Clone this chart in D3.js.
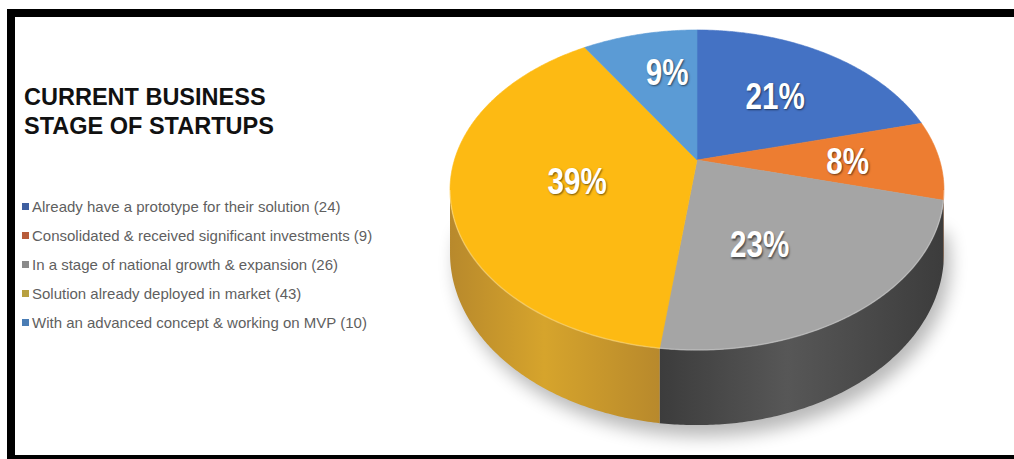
<!DOCTYPE html>
<meta charset="utf-8">
<script src="https://cdn.jsdelivr.net/npm/d3@7"></script>
<style type="text/css">
    body {
        margin: 0;
        background: #fff;
    }

    .title {
        font-family: "Liberation Sans", Arial, sans-serif;
        font-weight: bold;
        font-size: 23.5px;
        fill: #111;
    }

    .legend-label {
        font-family: "Liberation Sans", Arial, sans-serif;
        font-size: 15px;
        fill: #5f5f5f;
    }

    .pct {
        font-family: "Liberation Sans", Arial, sans-serif;
        font-weight: bold;
        font-size: 37px;
        fill: #fff;
        text-shadow: 1px 1px 2px rgba(0, 0, 0, 0.55);
    }
</style>

<body>
    <script type="text/javascript">
        var categories = [
            "Already have a prototype for their solution",
            "Consolidated & received significant investments",
            "In a stage of national growth & expansion",
            "Solution already deployed in market",
            "With an advanced concept & working on MVP"
        ];
        var counts = [24, 9, 26, 43, 10];
        var percents = [21, 8, 23, 39, 9];
        var titleLines = ["CURRENT BUSINESS", "STAGE OF STARTUPS"];

        var topColors = ["#4472C4", "#ED7D31", "#A5A5A5", "#FDBA13", "#5B9BD5"];
        var sideLight = ["#34599c", "#c0621f", "#575757", "#d6a42c", "#467cb0"];
        var sideDark = ["#2c4c86", "#a5521a", "#3c3c3c", "#b8892c", "#3a6a98"];
        var markColors = ["#3f5fa0", "#b85c3a", "#8a8a8a", "#b8a040", "#4a7db5"];
        // label placement tweaks: radius fraction and turn in degrees
        var labelK = [0.57, 0.62, 0.55, 0.5, 0.65];
        var labelTurn = [0, 1, 9, -3, 4];

        var width = 1014, height = 459;

        // pie geometry (perspective view of a flat disc)
        var cx = 697, cy = 160, SX = 242.6, SY = 154.4, p = 0.1875, depth = 61;

        var svg = d3.select("body").append("svg")
            .attr("width", width)
            .attr("height", height);

        var defs = svg.append("defs");
        defs.append("filter").attr("id", "blur")
            .attr("x", "-20%").attr("y", "-20%").attr("width", "140%").attr("height", "140%")
            .append("feGaussianBlur").attr("stdDeviation", 9);

        svg.append("rect")
            .attr("width", width)
            .attr("height", height)
            .attr("fill", "#fff");

        function proj(a, k, drop) {
            var c = Math.cos(a), s = Math.sin(a);
            var f = 1 / (1 + p * k * c);
            return [cx + SX * k * s * f, cy - SY * k * c * f + drop * f];
        }

        function rim(a0, a1, drop) {
            var n = Math.max(2, Math.ceil((a1 - a0) / 0.01));
            return d3.range(n + 1).map(function (i) {
                return proj(a0 + (a1 - a0) * i / n, 1, drop);
            });
        }

        var pie = d3.pie().sort(null).value(function (d) { return d; });
        var arcs = pie(percents);
        var line = d3.line();

        // shadow under the disc
        var shadowPts = rim(Math.PI * 0.5, Math.PI * 1.5, depth + 6);
        svg.append("path")
            .attr("d", line(shadowPts.concat([proj(Math.PI, 0.2, depth)])) + "Z")
            .attr("fill", "#000")
            .attr("opacity", 0.28)
            .attr("transform", "translate(6,4)")
            .attr("filter", "url(#blur)");

        // side walls
        var tR = Math.acos(-p), tL = 2 * Math.PI - Math.acos(-p);
        arcs.forEach(function (d, i) {
            var a0 = Math.max(d.startAngle, tR), a1 = Math.min(d.endAngle, tL);
            if (a0 >= a1) return;
            var top = rim(a0, a1, 0);
            var bottom = rim(a0, a1, depth).reverse();
            var xs = top.map(function (q) { return q[0]; });
            var gid = "side" + i;
            var g = defs.append("linearGradient").attr("id", gid)
                .attr("gradientUnits", "userSpaceOnUse")
                .attr("x1", d3.max(xs)).attr("x2", d3.min(xs))
                .attr("y1", 0).attr("y2", 0);
            g.append("stop").attr("offset", "0%").attr("stop-color", sideDark[i]);
            g.append("stop").attr("offset", "55%").attr("stop-color", sideLight[i]);
            g.append("stop").attr("offset", "100%").attr("stop-color", sideDark[i]);
            svg.append("path")
                .attr("d", line(top.concat(bottom)) + "Z")
                .attr("fill", "url(#" + gid + ")");
        });

        // top faces
        arcs.forEach(function (d, i) {
            var pts = [[cx, cy]].concat(rim(d.startAngle, d.endAngle, 0));
            svg.append("path")
                .attr("d", line(pts) + "Z")
                .attr("fill", topColors[i])
                .attr("stroke", topColors[i])
                .attr("stroke-width", 0.6);
        });

        // highlight along the front rim
        svg.append("path")
            .attr("d", line(rim(tR, tL, 0)))
            .attr("fill", "none")
            .attr("stroke", "#fff")
            .attr("stroke-opacity", 0.25)
            .attr("stroke-width", 1.5);

        // percentage labels
        arcs.forEach(function (d, i) {
            var mid = (d.startAngle + d.endAngle) / 2 + labelTurn[i] * Math.PI / 180;
            var pt = proj(mid, labelK[i], 0);
            svg.append("text")
                .attr("class", "pct")
                .attr("text-anchor", "middle")
                .attr("dominant-baseline", "central")
                .attr("transform", "translate(" + pt[0] + "," + pt[1] + ") scale(0.8,1)")
                .text(percents[i] + "%");
        });

        // title
        svg.selectAll(".title")
            .data(titleLines)
            .enter().append("text")
            .attr("class", "title")
            .attr("x", 24)
            .attr("y", function (d, i) { return 105 + i * 29; })
            .text(String);

        // legend
        var legend = svg.selectAll(".legend")
            .data(categories)
            .enter().append("g")
            .attr("class", "legend")
            .attr("transform", function (d, i) { return "translate(22," + (207 + i * 29) + ")"; });

        legend.append("rect")
            .attr("x", 0)
            .attr("y", -4)
            .attr("width", 7)
            .attr("height", 7)
            .attr("fill", function (d, i) { return markColors[i]; });

        legend.append("text")
            .attr("class", "legend-label")
            .attr("x", 10)
            .attr("dy", "0.35em")
            .text(function (d, i) { return d + " (" + counts[i] + ")"; });

        // frame (right edge runs off the picture)
        svg.append("rect")
            .attr("x", 11)
            .attr("y", 13)
            .attr("width", 1030)
            .attr("height", 446)
            .attr("fill", "none")
            .attr("stroke", "#000")
            .attr("stroke-width", 8);
    </script>
</body>

</html>
